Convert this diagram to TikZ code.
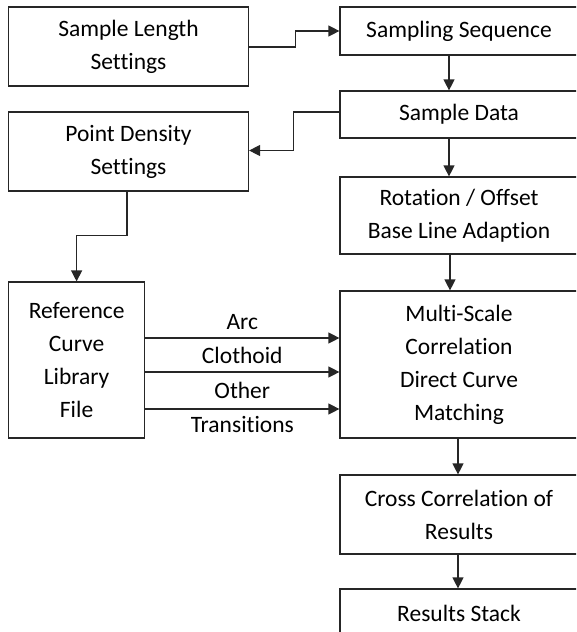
\documentclass[tikz,border=0pt]{standalone}
\usepackage{fontspec}
\setmainfont[Ligatures={NoCommon}]{Carlito}
\usetikzlibrary{arrows.meta}
\begin{document}
\begin{tikzpicture}[x=1pt,y=-1pt,
  box/.style={draw=black!85,line width=1.2pt,inner sep=0pt,align=center,
    font=\fontsize{23.5}{33}\selectfont},
  arr/.style={draw=black!85,line width=1.2pt,-{Triangle[length=11pt,width=11pt]}},
  lbl/.style={font=\fontsize{23.5}{33}\selectfont,inner sep=0pt}]
\clip (0,0) rectangle (576,632);
\node[box,minimum width=240pt,minimum height=79pt] (sls) at (128.5,46.5) {Sample Length\\Settings};
\node[box,minimum width=238pt,minimum height=48pt] (ss) at (459,31) {Sampling Sequence};
\node[box,minimum width=238pt,minimum height=47pt] (sd) at (459,114.5) {Sample Data};
\node[box,minimum width=240pt,minimum height=79pt] (pd) at (128.5,151.5) {Point Density\\Settings};
\node[box,minimum width=238pt,minimum height=77pt] (rot) at (459,215.5) {Rotation / Offset\\Base Line Adaption};
\node[box,minimum width=136pt,minimum height=156pt] (rc) at (76.6,360) {Reference\\Curve\\Library\\File};
\node[box,minimum width=238pt,minimum height=147pt] (ms) at (459,364.5) {Multi-Scale\\Correlation\\Direct Curve\\Matching};
\node[box,minimum width=238pt,minimum height=79pt] (cc) at (459,514.5) {Cross Correlation of\\Results};
\node[box,minimum width=238pt,minimum height=48pt] (rs) at (459,613) {Results Stack};
\coordinate (ya) at (0,338);
\coordinate (yb) at (0,372);
\coordinate (yc) at (0,409);
\draw[arr] ([yshift=-0.5pt]sls.east) -- ++(46,0) |- (ss.west);
\draw[arr] ([xshift=-10pt]ss.south) -- ([xshift=-10pt]sd.north);
\draw[arr] ([yshift=2.5pt]sd.west) -- ++(-46,0) |- ([yshift=1pt]pd.east);
\draw[arr] ([xshift=-10pt]sd.south) -- ([xshift=-10pt]rot.north);
\draw[arr] ([xshift=-1.5pt]pd.south) -- ++(0,44) -| (rc.north);
\draw[arr] ([xshift=-9pt]rot.south) -- ([xshift=-9pt]ms.north);
\draw[arr] (rc.east |- ya) -- node[lbl,above=8pt] {Arc} (ms.west |- ya);
\draw[arr] (rc.east |- yb) -- node[lbl,above=8pt] {Clothoid} (ms.west |- yb);
\draw[arr] (rc.east |- yc) -- node[lbl,above=10pt] {Other} node[lbl,below=7pt] {Transitions} (ms.west |- yc);
\draw[arr] ([xshift=-1pt]ms.south) -- ([xshift=-1pt]cc.north);
\draw[arr] ([xshift=-1pt]cc.south) -- ([xshift=-1pt]rs.north);
\end{tikzpicture}
\end{document}
